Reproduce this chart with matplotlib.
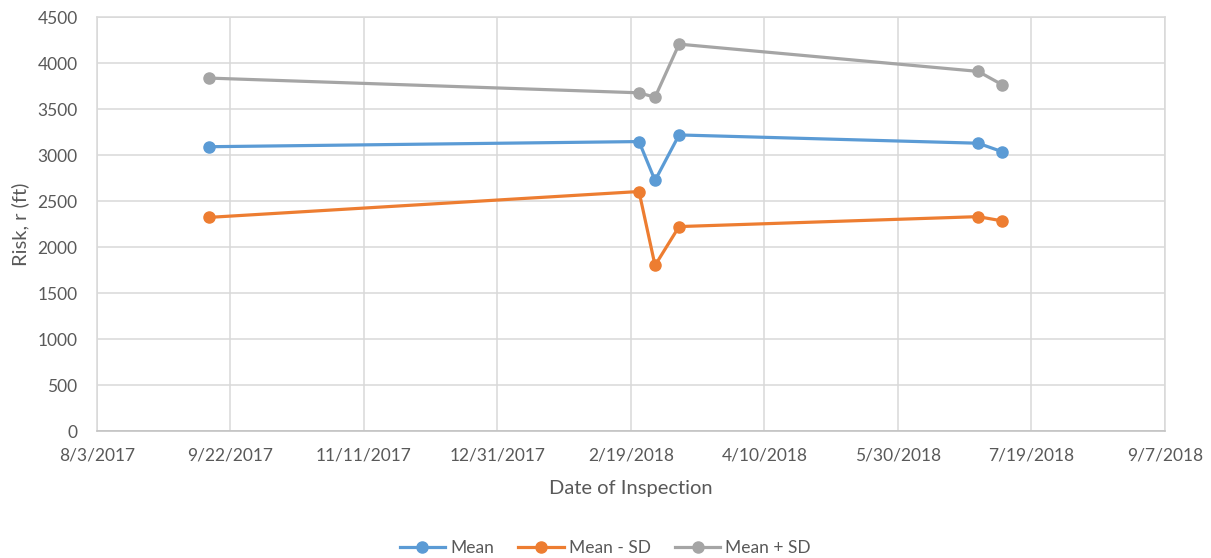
import datetime as dt
import matplotlib
matplotlib.use("Agg")
import matplotlib.pyplot as plt

# Inspection dates and risk statistics (ft)
dates = ["2017-09-14", "2018-02-22", "2018-02-28", "2018-03-09", "2018-06-29", "2018-07-08"]
mean = [3090, 3146, 2723, 3218, 3128, 3036]
mean_minus_sd = [2322, 2603, 1800, 2222, 2330, 2284]
mean_plus_sd = [3836, 3676, 3628, 4205, 3909, 3764]

series_names = ["Mean", "Mean - SD", "Mean + SD"]
series_colors = ["#5B9BD5", "#ED7D31", "#A5A5A5"]

x_start = dt.date(2017, 8, 3)
x_end = dt.date(2018, 9, 7)
tick_step_days = 50

plt.rcParams["font.family"] = ["Lato", "DejaVu Sans"]
text_color = "#595959"
grid_color = "#D9D9D9"

x = [dt.datetime.strptime(d, "%Y-%m-%d").date() for d in dates]

fig = plt.figure(figsize=(12.11, 5.58), dpi=100)
ax = fig.add_axes([97 / 1211, 1 - 431 / 558, (1165 - 97) / 1211, (431 - 17) / 558])

for name, vals, col in zip(series_names, [mean, mean_minus_sd, mean_plus_sd], series_colors):
    ax.plot(x, vals, color=col, lw=2.3, marker="o", ms=8, label=name, zorder=3)

ax.set_xlim(x_start, x_end)
ax.set_ylim(0, 4500)
ax.set_yticks(range(0, 4501, 500))
ticks = []
d = x_start
while d <= x_end:
    ticks.append(d)
    d += dt.timedelta(days=tick_step_days)
ax.set_xticks(ticks)
ax.set_xticklabels([f"{t.month}/{t.day}/{t.year}" for t in ticks])

ax.grid(True, color=grid_color, lw=1.1, zorder=0)
for s in ax.spines.values():
    s.set_color(grid_color)
    s.set_linewidth(1.1)
ax.spines["bottom"].set_color("#BFBFBF")
ax.tick_params(length=0, labelsize=12.5, colors=text_color)
ax.tick_params(axis="x", pad=12)
ax.tick_params(axis="y", pad=14)

ax.set_xlabel("Date of Inspection", fontsize=14.5, color=text_color, labelpad=12)
ax.set_ylabel("Risk, r (ft)", fontsize=14.5, color=text_color, labelpad=6)

fig.legend(loc="lower center", bbox_to_anchor=(0.5, -0.025), ncol=3, frameon=False,
           fontsize=12.5, labelcolor=text_color, handlelength=2.6, columnspacing=1.4,
           handletextpad=0.3)

fig.savefig("out.png", dpi=100)
